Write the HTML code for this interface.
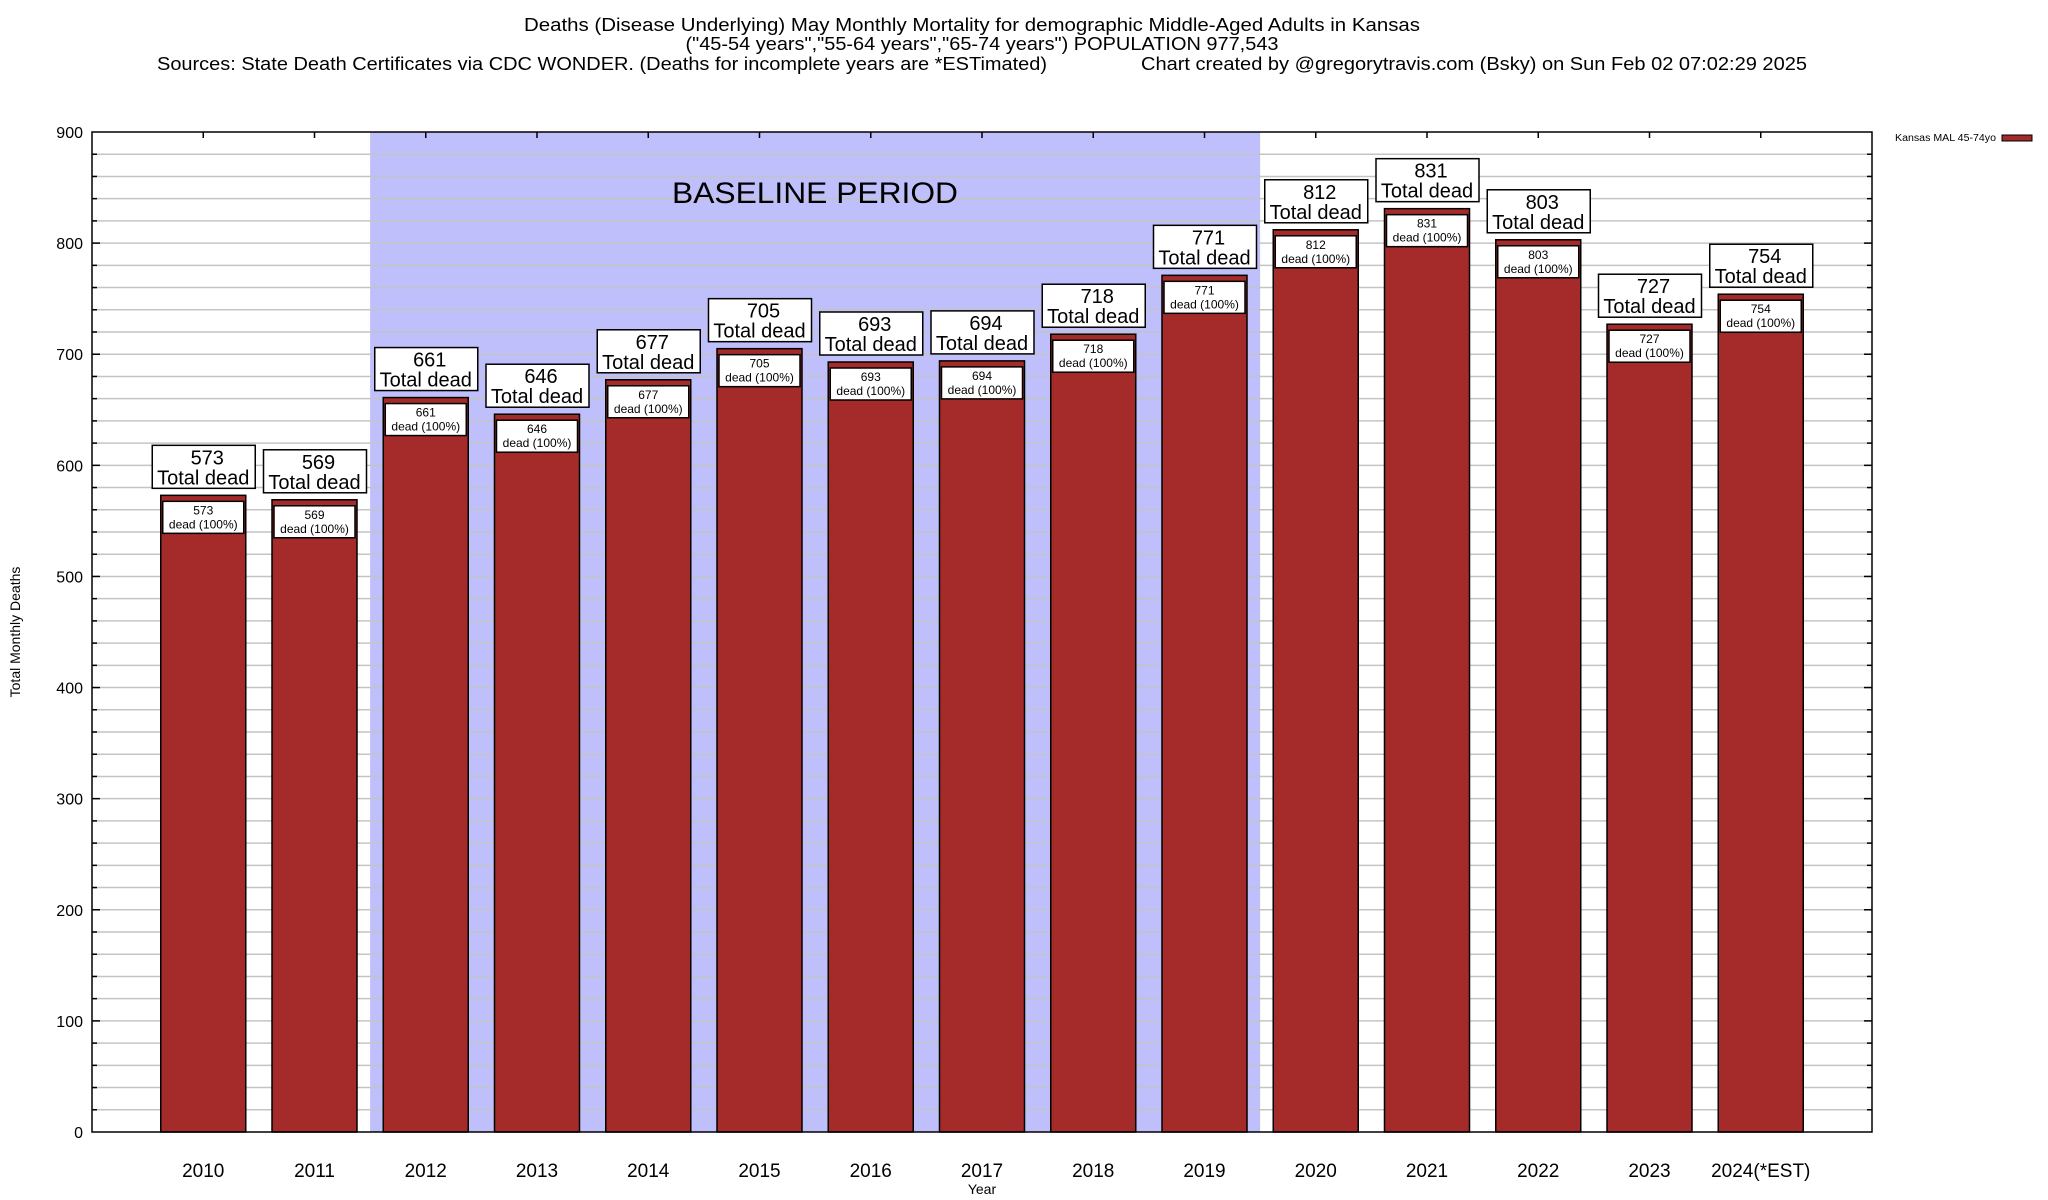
<!DOCTYPE html>
<html><head><meta charset="utf-8"><style>
html,body{margin:0;padding:0;background:#fff;}
svg{display:block;font-family:"Liberation Sans",sans-serif;}
</style></head><body>
<svg id="chart" width="2048" height="1200" viewBox="0 0 2048 1200">
<text x="972" y="31" font-size="18" text-anchor="middle" textLength="896" lengthAdjust="spacingAndGlyphs">Deaths (Disease Underlying) May Monthly Mortality for demographic Middle-Aged Adults in Kansas</text>
<text x="982" y="50" font-size="18" text-anchor="middle" textLength="593" lengthAdjust="spacingAndGlyphs">("45-54 years","55-64 years","65-74 years") POPULATION 977,543</text>
<text x="157" y="70" font-size="18" textLength="890" lengthAdjust="spacingAndGlyphs">Sources: State Death Certificates via CDC WONDER. (Deaths for incomplete years are *ESTimated)</text>
<text x="1141" y="70" font-size="18" textLength="666" lengthAdjust="spacingAndGlyphs">Chart created by @gregorytravis.com (Bsky) on Sun Feb 02 07:02:29 2025</text>
<text x="1895" y="141" font-size="10" textLength="101" lengthAdjust="spacingAndGlyphs">Kansas MAL 45-74yo</text>
<rect x="2002" y="135" width="30" height="6" fill="#a52a2a" stroke="#000" stroke-width="1"/>
<text transform="translate(20,632) rotate(-90)" font-size="14" text-anchor="middle">Total Monthly Deaths</text>
<text x="982" y="1194" font-size="14" text-anchor="middle">Year</text>
<g id="plot"></g>
</svg>
<script>
const categories = ["2010","2011","2012","2013","2014","2015","2016","2017","2018","2019","2020","2021","2022","2023","2024(*EST)"];
const deaths = [573,569,661,646,677,705,693,694,718,771,812,831,803,727,754];
const yTicks = [0,100,200,300,400,500,600,700,800,900];
const baselineStart = 2; // index of 2012
const baselineEnd = 9;   // index of 2019

const L=92,R=1872,T=132,B=1132,YMAX=900;
const slot=(R-L)/(categories.length+1);
const xc=i=>L+(i+1)*slot;
const y=v=>B-(v/YMAX)*(B-T);
const NS="http://www.w3.org/2000/svg";
const g=document.getElementById('plot');
function mk(tag,attrs,parent){const e=document.createElementNS(NS,tag);for(const k in attrs)e.setAttribute(k,attrs[k]);(parent||g).appendChild(e);return e;}

const sh=mk('rect',{x:xc(baselineStart)-slot/2,y:T,width:(baselineEnd-baselineStart+1)*slot,height:B-T,fill:'#bfbffc'});



for(let v=20;v<YMAX;v+=20){
  const ln=mk('line',{x1:L,x2:R,y1:y(v),y2:y(v),stroke:'#c4c4c4','stroke-width':1.5});
  
  
}
const bt=mk('text',{x:672,y:203,'font-size':30,textLength:286,lengthAdjust:'spacingAndGlyphs'});
bt.textContent='BASELINE PERIOD';



yTicks.forEach(v=>{
  const t=mk('text',{x:83,y:y(v)+6,'font-size':16,'text-anchor':'end'});
  t.textContent=v;
  
  
});

categories.forEach((c,i)=>{
  const v=deaths[i],cx=xc(i),w=85,top=y(v);
  const b=mk('rect',{x:cx-w/2,y:top,width:w,height:B-top,fill:'#a52a2a',stroke:'#000','stroke-width':1.5});
  
  
  const ib=mk('rect',{x:cx-w/2+2,y:top+6,width:w-4,height:32,fill:'#fff',stroke:'#000','stroke-width':1.5});
  
  
  const t1=mk('text',{x:cx,y:top+19,'font-size':12,'text-anchor':'middle'});t1.textContent=v;
  
  
  const t2=mk('text',{x:cx,y:top+33,'font-size':12,'text-anchor':'middle'});t2.textContent='dead (100%)';
  
  
  const ob=mk('rect',{x:cx-51,y:top-50,width:103,height:43,fill:'#fff',stroke:'#000','stroke-width':1.5});
  
  
  const t3=mk('text',{x:cx+4,y:top-31,'font-size':20,'text-anchor':'middle'});t3.textContent=v;
  
  
  const t4=mk('text',{x:cx,y:top-11,'font-size':20,'text-anchor':'middle'});t4.textContent='Total dead';
  
  
  const xl=mk('text',{x:cx,y:1177,'font-size':19,'text-anchor':'middle'});xl.textContent=c;
  
  
  const tk=mk('line',{x1:cx,x2:cx,y1:T,y2:T+6,stroke:'#000','stroke-width':1.5});
  
  
});
for(let v=20;v<YMAX;v+=20){
  const len=v%100===0?8:5;
  const a=mk('line',{x1:R-len,x2:R,y1:y(v),y2:y(v),stroke:'#000','stroke-width':1.5});
  
  
  const b2=mk('line',{x1:L,x2:L+len,y1:y(v),y2:y(v),stroke:'#000','stroke-width':1.5});
  
  
}
const fr=mk('rect',{x:L,y:T,width:R-L,height:B-T,fill:'none',stroke:'#000','stroke-width':1.5});


</script>
</body></html>
